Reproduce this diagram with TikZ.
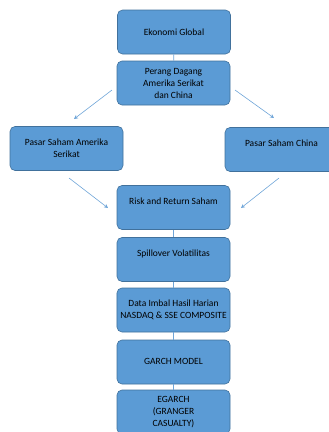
\documentclass[tikz,border=0pt]{standalone}
\usepackage{fontspec}
\setmainfont{Carlito}
\usepackage{xcolor}
\definecolor{boxblue}{HTML}{5B9BD5}
\definecolor{boxedge}{HTML}{41719C}
\definecolor{lineblue}{HTML}{6FA5D8}
\usepackage{tikz}
\usetikzlibrary{arrows.meta, positioning, calc}

\begin{document}
\begin{tikzpicture}[x=1pt, y=-1pt,
    kotak/.style={draw=boxedge, fill=boxblue, rounded corners=5pt, line width=0.6pt,
      minimum width=113pt, minimum height=44pt, align=center, font=\fontsize{9.5}{12}\selectfont},
    naik/.style={text depth=12pt},
    garis/.style={lineblue, line width=0.6pt},
    panah/.style={lineblue, line width=0.6pt, -{Stealth[length=4pt, width=4pt]}}]
        \useasboundingbox (0,0) rectangle (329,432);
        % upper part
        \node[kotak] (ekonomi) at (174,32) {Ekonomi Global};
        \node[kotak] (perang) at (173.5,83) {Perang Dagang\\Amerika Serikat\\dan China};
        \node[kotak] (amerika) at (66.5,148.5) {Pasar Saham Amerika\\Serikat};
        \node[kotak, naik] (china) at (281.5,149.5) {Pasar Saham China};
        % main column
        \node[kotak, naik] (risk) at (173.5,207.5) {Risk and Return Saham};
        \node[kotak, naik] (spill) at (173.5,259.5) {Spillover Volatilitas};
        \node[kotak] (data) at (173.5,310) {Data Imbal Hasil Harian\\NASDAQ \& SSE COMPOSITE};
        \node[kotak] (garch) at (173.5,362) {\strut GARCH MODEL};
        \node[kotak] (egarch) at (173.5,412) {EGARCH\\(GRANGER\\CASUALTY)};
        % free ends of the arrows
        \coordinate (a1) at (112,90);
        \coordinate (a2) at (74,119);
        \coordinate (b1) at (235,90);
        \coordinate (b2) at (274,118);
        \coordinate (c1) at (69,178);
        \coordinate (c2) at (108,208);
        \coordinate (d1) at (279,178);
        \coordinate (d2) at (241,208);
        \draw[panah] (a1) -- (a2);
        \draw[panah] (b1) -- (b2);
        \draw[panah] (c1) -- (c2);
        \draw[panah] (d1) -- (d2);
        % vertical links
        \draw[garis] (ekonomi) -- (perang);
        \draw[garis] (risk) -- (spill);
        \draw[garis] (spill) -- (data);
        \draw[garis] (data) -- (garch);
        \draw[garis] (garch) -- (egarch);
      \end{tikzpicture}
\end{document}
